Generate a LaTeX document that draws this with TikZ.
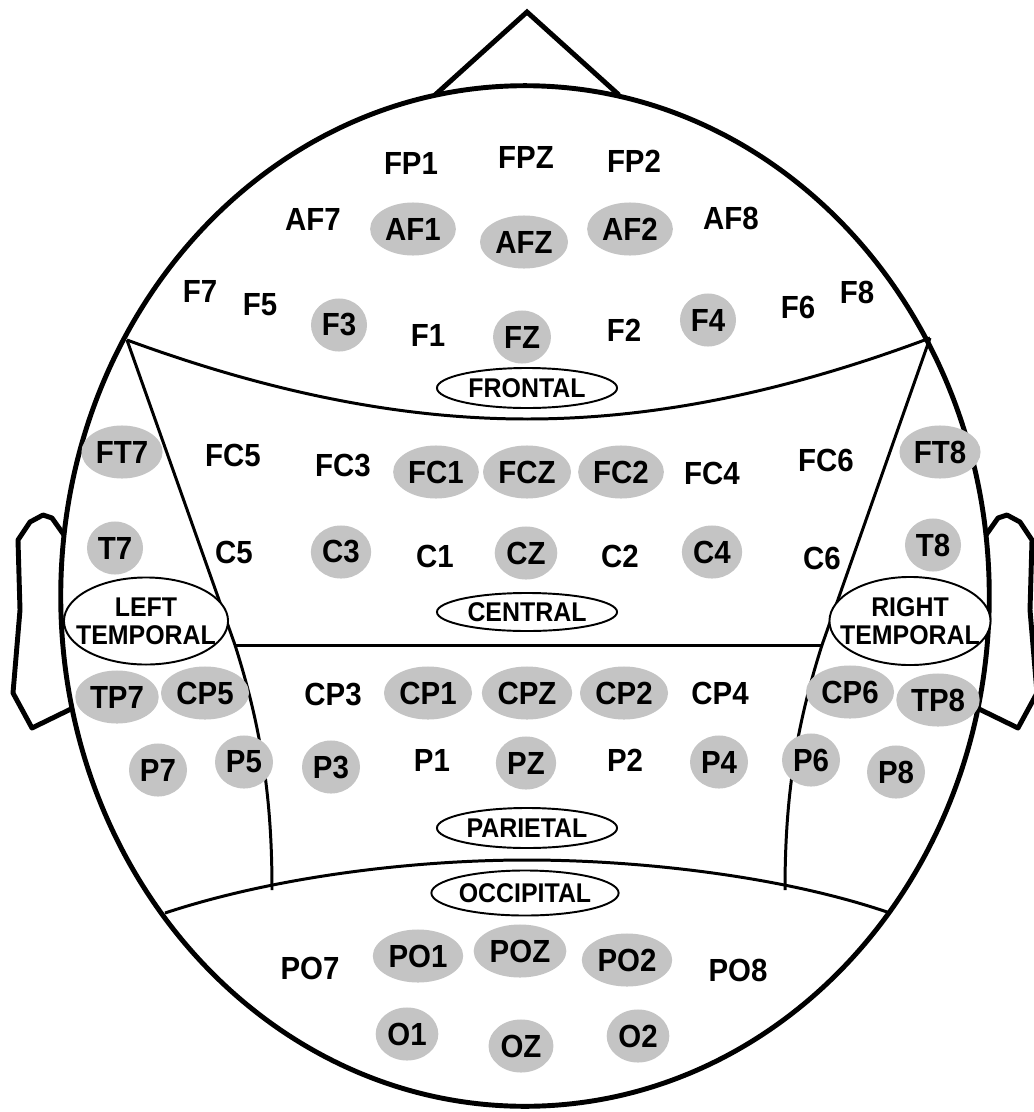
\documentclass[tikz,border=0pt]{standalone}
\usepackage{fontspec}
\setmainfont{Liberation Sans}[FakeStretch=0.92]
\usetikzlibrary{shapes.geometric}
\definecolor{elgray}{gray}{0.77}
\tikzset{el/.style={font=\fontsize{9.1}{10}\selectfont\bfseries,inner sep=0pt},
 eg/.style={el,ellipse,fill=elgray,minimum width=0.56cm,minimum height=0.53cm,inner xsep=0.25mm},
 zt/.style={inner sep=0pt,font=\fontsize{7.7}{7.9}\selectfont\bfseries,align=center},
 zl/.style={zt,draw,ellipse,line width=0.55pt,fill=white},
 hd/.style={line width=1.4pt,line join=round},
 zn/.style={line width=0.85pt}}
\begin{document}
\begin{tikzpicture}[x=0.01cm,y=0.01cm]
\useasboundingbox[fill=white] (0,0) rectangle (1034,-1112);
% head outline
\coordinate (nl) at (435,-95); \coordinate (nt) at (527,-12); \coordinate (nr) at (619,-95);
\draw[hd,line join=miter] (nl)--(nt)--(nr);
\draw[hd] (525,-596) ellipse [x radius=4.64cm,y radius=5.1cm];
\draw[hd] (64,-535)--(52,-518)--(43,-515)--(30,-522)--(18,-540)--(20,-610)--(13,-693)--(32,-728)--(73,-708);
\draw[hd] (986,-535)--(998,-518)--(1007,-515)--(1020,-522)--(1032,-540)--(1030,-610)--(1037,-693)--(1018,-728)--(977,-708);
% zones
\coordinate (fl) at (127,-340); \coordinate (fr) at (930,-338);
\coordinate (cl) at (235,-645); \coordinate (cr) at (822,-645);
\coordinate (pl) at (272,-890); \coordinate (pr) at (785,-890);
\coordinate (ol) at (165,-913); \coordinate (or) at (890,-913);
\draw[zn] (fl) .. controls (290,-400) and (420,-419) .. (527,-419) .. controls (634,-419) and (765,-400) .. (fr);
\draw[zn] (fl)--(cl) .. controls (262,-730) and (272,-800) .. (pl);
\draw[zn] (fr)--(cr) .. controls (795,-730) and (785,-800) .. (pr);
\draw[zn] (cl)--(cr);
\draw[zn] (ol) .. controls (280,-875) and (420,-860) .. (527,-860) .. controls (634,-860) and (780,-875) .. (or);
% zone labels
\node[zl,minimum width=1.8cm,minimum height=0.4cm] (frontal) at (527,-388) {FRONTAL};
\node[zl,minimum width=1.8cm,minimum height=0.38cm] (central) at (527,-612) {CENTRAL};
\node[zl,minimum width=1.8cm,minimum height=0.4cm] (parietal) at (527,-828) {PARIETAL};
\node[zl,minimum width=1.85cm,minimum height=0.45cm] (occipital) at (525,-893) {OCCIPITAL};
\node[zl,minimum width=1.64cm,minimum height=0.87cm,label={[zt]center:LEFT\\TEMPORAL}] (ltemp) at (146,-621) {};
\node[zl,minimum width=1.61cm,minimum height=0.88cm,label={[zt]center:RIGHT\\TEMPORAL}] (rtemp) at (910,-621) {};
% electrodes
\node[el] (FP1) at (411,-163) {FP1}; \node[el] (FPZ) at (526,-157) {FPZ}; \node[el] (FP2) at (634,-161) {FP2};
\node[el] (AF7) at (313,-219) {AF7}; \node[eg] (AF1) at (413,-229) {AF1}; \node[eg] (AFZ) at (524,-242) {AFZ};
\node[eg] (AF2) at (630,-229) {AF2}; \node[el] (AF8) at (731,-218) {AF8};
\node[el] (F7) at (200,-291) {F7}; \node[el] (F5) at (260,-305) {F5}; \node[eg] (F3) at (339,-325) {F3};
\node[el] (F1) at (428,-335) {F1}; \node[eg] (FZ) at (522,-337) {FZ}; \node[el] (F2) at (624,-330) {F2};
\node[eg] (F4) at (708,-320) {F4}; \node[el] (F6) at (798,-307) {F6}; \node[el] (F8) at (857,-292) {F8};
\node[eg] (FT7) at (122,-452) {FT7}; \node[el] (FC5) at (233,-455) {FC5}; \node[el] (FC3) at (343,-466) {FC3};
\node[eg] (FC1) at (436,-472) {FC1}; \node[eg] (FCZ) at (527,-472) {FCZ}; \node[eg] (FC2) at (621,-472) {FC2};
\node[el] (FC4) at (712,-473) {FC4}; \node[el] (FC6) at (826,-460) {FC6}; \node[eg] (FT8) at (940,-452) {FT8};
\node[eg] (T7) at (115,-548) {T7}; \node[el] (C5) at (234,-552) {C5}; \node[eg] (C3) at (341,-552) {C3};
\node[el] (C1) at (435,-556) {C1}; \node[eg] (CZ) at (526,-553) {CZ}; \node[el] (C2) at (620,-556) {C2};
\node[eg] (C4) at (712,-552) {C4}; \node[el] (C6) at (822,-558) {C6}; \node[eg] (T8) at (933,-545) {T8};
\node[eg] (TP7) at (117,-697) {TP7}; \node[eg] (CP5) at (205,-693) {CP5}; \node[el] (CP3) at (333,-694) {CP3};
\node[eg] (CP1) at (428,-693) {CP1}; \node[eg] (CPZ) at (527,-693) {CPZ}; \node[eg] (CP2) at (624,-693) {CP2};
\node[el] (CP4) at (720,-693) {CP4}; \node[eg] (CP6) at (850,-692) {CP6}; \node[eg] (TP8) at (938,-700) {TP8};
\node[eg] (P7) at (158,-770) {P7}; \node[eg] (P5) at (244,-762) {P5}; \node[eg] (P3) at (331,-767) {P3};
\node[el] (P1) at (432,-760) {P1}; \node[eg] (PZ) at (526,-763) {PZ}; \node[el] (P2) at (625,-760) {P2};
\node[eg] (P4) at (719,-762) {P4}; \node[eg] (P6) at (811,-760) {P6}; \node[eg] (P8) at (896,-772) {P8};
\node[el] (PO7) at (310,-968) {PO7}; \node[eg] (PO1) at (418,-956) {PO1}; \node[eg] (POZ) at (520,-951) {POZ};
\node[eg] (PO2) at (627,-960) {PO2}; \node[el] (PO8) at (738,-970) {PO8};
\node[eg] (O1) at (407,-1034) {O1}; \node[eg] (OZ) at (521,-1046) {OZ}; \node[eg] (O2) at (638,-1036) {O2};
\end{tikzpicture}
\end{document}
